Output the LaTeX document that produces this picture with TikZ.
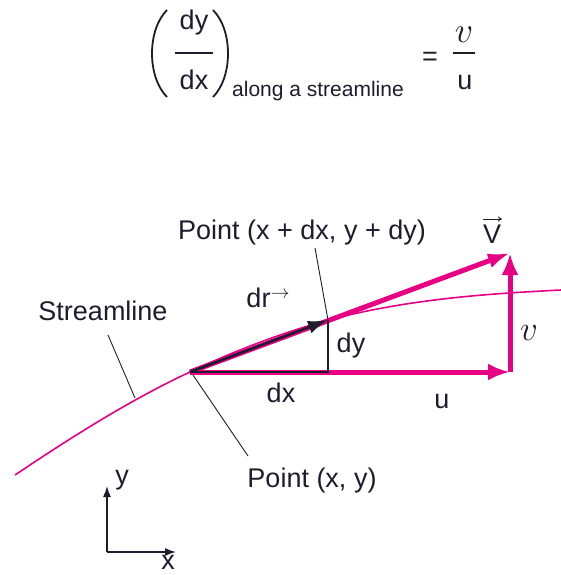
\documentclass[tikz,border=0pt]{standalone}
\usepackage{amsmath}
\usepackage{fontspec}
\setmainfont{Liberation Sans}
\usetikzlibrary{arrows.meta}
\definecolor{mag}{RGB}{232,0,132}
\definecolor{ink}{RGB}{30,28,45}
\begin{document}
\begin{tikzpicture}[x=1pt,y=-1pt,
  txt/.style={font=\fontsize{27}{30}\selectfont, text=ink, inner sep=0pt, anchor=base},
  sub/.style={font=\fontsize{21}{24}\selectfont, text=ink, inner sep=0pt, anchor=base},
  leader/.style={draw=ink, line width=0.9pt},
  bigarrow/.style={draw=mag, line width=5pt, -{Latex[length=22pt,width=17pt]}},
  stream/.style={draw=mag, line width=1.6pt},
  thin/.style={draw=ink, line width=1.4pt},
]
\useasboundingbox (0,0) rectangle (561,575);

% ---------- equation ----------
\node[txt] (num) at (194,30) {dy};
\node[txt] (den) at (194,90) {dx};
\coordinate (b1) at (175,53); \coordinate (b2) at (213,53);
\draw[ink, line width=1.3pt] (b1) -- (b2);
\coordinate (lp1) at (167,10); \coordinate (lp2) at (167,97);
\coordinate (rp1) at (213,10); \coordinate (rp2) at (213,97);
\draw[ink, line width=1.8pt] (lp1) .. controls (147,30) and (147,77) .. (lp2);
\draw[ink, line width=1.8pt] (rp1) .. controls (233,30) and (233,77) .. (rp2);
\node[sub, anchor=base west] (along) at (232,97) {along a streamline};
\node[txt] (eq) at (430,66) {=};
\node[txt] (vn) at (464,43) {\scalebox{1.45}{$v$}};
\coordinate (c1) at (453,53); \coordinate (c2) at (475,53);
\draw[ink, line width=1.3pt] (c1) -- (c2);
\node[txt] (ud) at (465,90) {u};

% ---------- geometry ----------
\coordinate (P) at (190,372);
\coordinate (Q) at (328,372);
\coordinate (R) at (328,320);
\coordinate (U) at (510,372);
\coordinate (Vt) at (510,253);
\coordinate (S0) at (15,475);
\coordinate (S3) at (561,290);

% streamline
\draw[stream] (S0) .. controls (73,436) and (132,399) .. (P)
  .. controls (236,350) and (282,333) .. (R)
  .. controls (410,299) and (483,294) .. (S3);

% velocity vectors
\draw[bigarrow] (P) -- (U);
\draw[bigarrow] (U) -- (Vt);
\draw[bigarrow, -{Latex[length=22pt,width=15pt]}] (P) -- (Vt);

% dx, dy triangle
\draw[thin] (P) -- (Q) -- (R);
\draw[draw=ink, line width=2.6pt, -{Latex[length=20pt,width=13pt]}] (P) -- (R);

% labels
\node[txt] (lblPdx) at (302,239) {Point (x + dx, y + dy)};
\node[txt] (lblP) at (312,487) {Point (x, y)};
\node[txt] (lblS) at (103,320) {Streamline};
\node[txt] (lbldr) at (268,307) {dr\raisebox{9pt}{\scalebox{1.1}{$\scriptstyle\rightarrow$}}};
\node[txt] (lbldy) at (351,352) {dy};
\node[txt] (lbldx) at (281,402) {dx};
\node[txt] (lblu) at (442,408) {u};
\node[txt] (lblv) at (529,340) {\scalebox{1.4}{$v$}};
\node[txt] (lblV) at (492,243) {V};
\coordinate (va1) at (483,219); \coordinate (va2) at (502,219);
\draw[ink, line width=0.9pt, -{To[length=4pt,width=5pt]}] (va1) -- (va2);

% leaders
\coordinate (s1) at (108,335); \coordinate (s2) at (135,398);
\draw[leader] (s1) -- (s2);
\coordinate (p1) at (193,375); \coordinate (p2) at (248,456);
\draw[leader] (p1) -- (p2);
\coordinate (q1) at (315,248);
\draw[leader] (q1) -- (R);

% axes
\coordinate (O) at (107,552);
\coordinate (Ay) at (107,486);
\coordinate (Ax) at (176,552);
\draw[ink, line width=1.4pt, -{Latex[length=11pt,width=8pt]}] (O) -- (Ay);
\draw[ink, line width=1.4pt, -{Latex[length=11pt,width=8pt]}] (O) -- (Ax);
\node[txt] (ly) at (122,484) {y};
\node[txt] (lx) at (168,569) {x};
\end{tikzpicture}
\end{document}
